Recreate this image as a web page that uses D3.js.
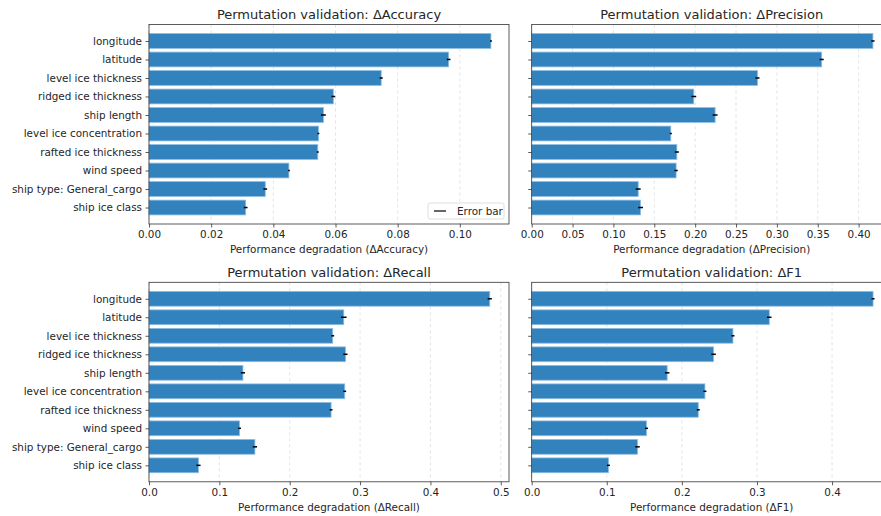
<!DOCTYPE html>
<html>
<head>
<meta charset="utf-8">
<script src="https://cdn.jsdelivr.net/npm/d3@7"></script>
<style>
  html, body { margin: 0; padding: 0; background: #fff; }
  svg { display: block; font-family: "DejaVu Sans", sans-serif; }
</style>
</head>
<body>
<svg id="chart" width="881" height="516"></svg>
<script>
// Feature names, top to bottom
const features = [
  "longitude", "latitude", "level ice thickness", "ridged ice thickness",
  "ship length", "level ice concentration", "rafted ice thickness",
  "wind speed", "ship type: General_cargo", "ship ice class"
];

// Mean performance drop after permuting each feature, with its error bar
const accuracyDrop = [0.1100, 0.0964, 0.0747, 0.0593, 0.0561, 0.0545, 0.0543, 0.0450, 0.0374, 0.0311];
const accuracyErr  = [0.0003, 0.0006, 0.0005, 0.0006, 0.0008, 0.0003, 0.0003, 0.0003, 0.0006, 0.0006];

const precisionDrop = [0.4175, 0.3548, 0.2762, 0.1983, 0.2244, 0.1702, 0.1776, 0.1767, 0.1303, 0.1332];
const precisionErr  = [0.0020, 0.0025, 0.0025, 0.0030, 0.0030, 0.0012, 0.0025, 0.0020, 0.0030, 0.0030];

const recallDrop = [0.4843, 0.2768, 0.2611, 0.2792, 0.1335, 0.2782, 0.2588, 0.1287, 0.1505, 0.0703];
const recallErr  = [0.0030, 0.0040, 0.0020, 0.0030, 0.0030, 0.0020, 0.0020, 0.0020, 0.0030, 0.0030];

const f1Drop = [0.4546, 0.3164, 0.2680, 0.2422, 0.1804, 0.2307, 0.2218, 0.1529, 0.1409, 0.1022];
const f1Err  = [0.0020, 0.0030, 0.0020, 0.0030, 0.0030, 0.0020, 0.0020, 0.0020, 0.0030, 0.0020];

// Tick values per panel
const accuracyTicks  = [0.00, 0.02, 0.04, 0.06, 0.08, 0.10];
const precisionTicks = [0.00, 0.05, 0.10, 0.15, 0.20, 0.25, 0.30, 0.35, 0.40];
const recallTicks    = [0.0, 0.1, 0.2, 0.3, 0.4, 0.5];
const f1Ticks        = [0.0, 0.1, 0.2, 0.3, 0.4];

const panels = [
  { metric: "Accuracy",  values: accuracyDrop,  errs: accuracyErr,  ticks: accuracyTicks,  fmt: ".2f",
    left: 149, top: 24.5, showLabels: true, legend: true },
  { metric: "Precision", values: precisionDrop, errs: precisionErr, ticks: precisionTicks, fmt: ".2f",
    left: 531.7, top: 24.5, showLabels: false, legend: false },
  { metric: "Recall",    values: recallDrop,    errs: recallErr,    ticks: recallTicks,    fmt: ".1f",
    left: 149, top: 282.3, showLabels: true, legend: false },
  { metric: "F1",        values: f1Drop,        errs: f1Err,        ticks: f1Ticks,        fmt: ".1f",
    left: 531.7, top: 282.3, showLabels: false, legend: false }
];

const W = 360, H = 199.5;
const tickFont = "10.4px", titleFont = "13px";
const barFill = "#3282bd", barEdge = "#8dbde3", textColor = "#262626", spineColor = "#333";
const svg = d3.select("#chart");

panels.forEach(p => {
  const g = svg.append("g").attr("transform", `translate(${p.left},${p.top})`);
  const xMax = d3.max(p.values, (v, i) => v + p.errs[i]) * 1.05;
  const x = d3.scaleLinear().domain([0, xMax]).range([0, W]);
  // Row index on a continuous scale: bars of height 0.8 with 5% margins
  const pad = 0.49;
  const y = d3.scaleLinear().domain([-0.4 - pad, features.length - 1 + 0.4 + pad]).range([0, H]);

  // dashed vertical grid
  g.append("g").selectAll("line").data(p.ticks).join("line")
    .attr("x1", d => x(d)).attr("x2", d => x(d))
    .attr("y1", 0).attr("y2", H)
    .attr("stroke", "#b0b0b0").attr("stroke-opacity", 0.45)
    .attr("stroke-width", 0.8).attr("stroke-dasharray", "3,3");

  // bars
  g.append("g").selectAll("rect").data(p.values).join("rect")
    .attr("x", x(0))
    .attr("y", (d, i) => y(i - 0.4))
    .attr("width", d => x(d) - x(0))
    .attr("height", y(0.4) - y(-0.4))
    .attr("fill", barFill)
    .attr("stroke", barEdge).attr("stroke-width", 0.8);

  // error bars
  g.append("g").selectAll("line").data(p.values).join("line")
    .attr("x1", (d, i) => x(d - p.errs[i]))
    .attr("x2", (d, i) => x(d + p.errs[i]))
    .attr("y1", (d, i) => y(i)).attr("y2", (d, i) => y(i))
    .attr("stroke", "#000").attr("stroke-width", 1.5);

  // x axis
  const xAxis = g.append("g").attr("transform", `translate(0,${H})`)
    .call(d3.axisBottom(x).tickValues(p.ticks).tickFormat(d3.format(p.fmt)).tickSize(3.5).tickPadding(3.5));
  xAxis.select(".domain").remove();
  xAxis.selectAll("line").attr("stroke", spineColor).attr("stroke-width", 0.8);
  xAxis.selectAll("text").attr("fill", textColor).style("font-size", tickFont)
    .style("font-family", "DejaVu Sans, sans-serif");

  // y axis
  const yAxis = g.append("g")
    .call(d3.axisLeft(y).tickValues(d3.range(features.length))
      .tickFormat(i => p.showLabels ? features[i] : "").tickSize(3.5).tickPadding(3.5));
  yAxis.select(".domain").remove();
  yAxis.selectAll("line").attr("stroke", spineColor).attr("stroke-width", 0.8);
  yAxis.selectAll("text").attr("fill", textColor).style("font-size", tickFont)
    .style("font-family", "DejaVu Sans, sans-serif");

  // spines
  g.append("rect").attr("x", 0).attr("y", 0).attr("width", W).attr("height", H)
    .attr("fill", "none").attr("stroke", spineColor).attr("stroke-width", 0.8);

  // title
  g.append("text").attr("x", W / 2).attr("y", -5.5)
    .attr("text-anchor", "middle").attr("fill", textColor)
    .style("font-size", titleFont)
    .text(`Permutation validation: Δ${p.metric}`);

  // x label
  g.append("text").attr("x", W / 2).attr("y", H + 29)
    .attr("text-anchor", "middle").attr("fill", textColor)
    .style("font-size", tickFont)
    .text(`Performance degradation (Δ${p.metric})`);

  if (p.legend) {
    const lg = g.append("g").attr("transform", `translate(${W - 81},${H - 21})`);
    lg.append("rect").attr("width", 76).attr("height", 16).attr("rx", 2)
      .attr("fill", "#fff").attr("fill-opacity", 0.8)
      .attr("stroke", "#d6d6d6").attr("stroke-width", 0.8);
    lg.append("line").attr("x1", 6).attr("x2", 18).attr("y1", 8).attr("y2", 8)
      .attr("stroke", "#000").attr("stroke-width", 1.2);
    lg.append("text").attr("x", 29).attr("y", 11.5).attr("fill", textColor)
      .style("font-size", tickFont).text("Error bar");
  }
});
</script>
</body>
</html>
